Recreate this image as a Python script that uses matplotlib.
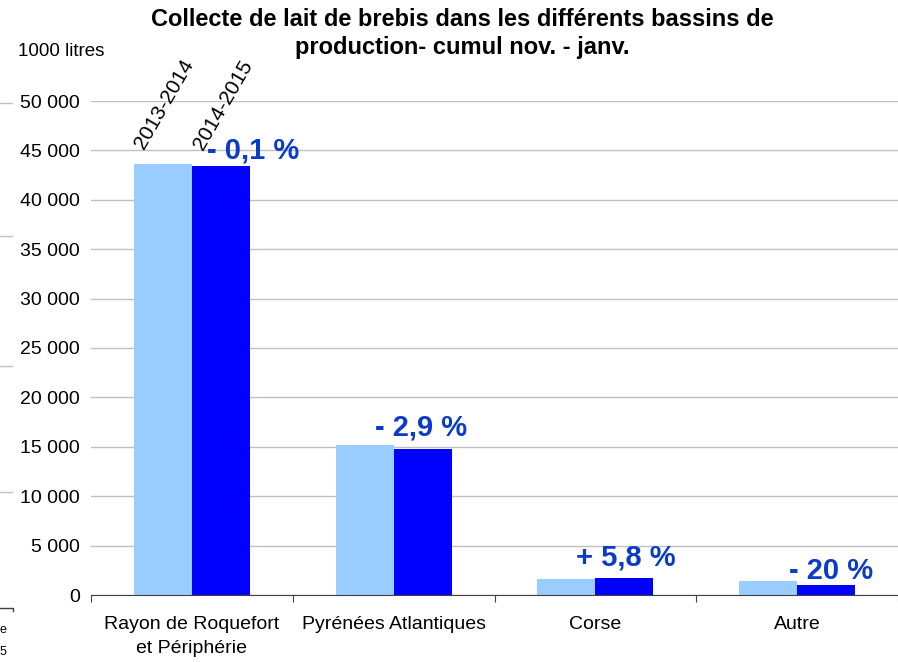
import matplotlib
matplotlib.use("Agg")
import matplotlib.pyplot as plt
import numpy as np

plt.rcParams['font.family'] = ['Liberation Sans', 'DejaVu Sans']

categories = ["Rayon de Roquefort\net Périphérie", "Pyrénées Atlantiques", "Corse", "Autre"]
series_names = ["2013-2014", "2014-2015"]
vals_2013 = [43650, 15150, 1620, 1410]
vals_2014 = [43450, 14750, 1720, 1010]
pct_labels = ["- 0,1 %", "- 2,9 %", "+ 5,8 %", "- 20 %"]
yticks = np.arange(0, 50001, 5000)

fig = plt.figure(figsize=(8.98, 6.62), dpi=100)
ax = fig.add_axes([91/898, 1-595/662, 1-91/898, (595-101)/662])

x = np.arange(len(categories))
w = 0.287
ax.bar(x - w/2, vals_2013, w, color='#99CCFF', zorder=3)
ax.bar(x + w/2, vals_2014, w, color='#0000FF', zorder=3)

ax.set_xlim(-0.5, len(categories) - 0.5)
ax.set_ylim(0, 50000)
ax.set_yticks(yticks)
ax.set_yticklabels([f"{v:,}".replace(",", " ") for v in yticks], fontsize=14)
ax.yaxis.grid(True, color='#C0C0C0', linewidth=1, zorder=0)
ax.tick_params(axis='y', length=0, pad=8)

# category labels between boundary ticks
ax.set_xticks(np.arange(len(categories) + 1) - 0.5)
ax.set_xticklabels([])
ax.tick_params(axis='x', length=5, color='#404040', direction='out')
for i, c in enumerate(categories):
    ax.text(i, -2100, c, ha='center', va='top', fontsize=14, linespacing=1.55)

for s in ['top', 'right', 'left']:
    ax.spines[s].set_visible(False)
ax.spines['bottom'].set_color('#404040')
ax.spines['bottom'].set_zorder(4)

# series names above first group
ax.text(-0.22, 44800, series_names[0], rotation=60, ha='left', va='bottom',
        fontsize=15, rotation_mode='anchor')
ax.text(0.07, 44700, series_names[1], rotation=60, ha='left', va='bottom',
        fontsize=15, rotation_mode='anchor')

# percent change labels
offsets = [(0.302, 1370), (0.134, 1830), (0.153, 2110), (0.168, 1000)]
for i, (lab, (dx, dy)) in enumerate(zip(pct_labels, offsets)):
    top = max(vals_2013[i], vals_2014[i])
    ax.text(i + dx, top + dy, lab, ha='center', va='center', fontsize=21,
            fontweight='bold', color='#0A3CC8')

fig.text(0.5145, 1-33.5/662, "Collecte de lait de brebis dans les différents bassins de\nproduction- cumul nov. - janv.",
         ha='center', va='center', fontsize=17, fontweight='bold', linespacing=1.23)
fig.text(18/898, 1-51/662, "1000 litres", ha='left', va='center', fontsize=13.5)

# fragments of a neighbouring chart at the left edge
for yy in [103, 236, 366, 492]:
    fig.add_artist(plt.Line2D([0, 12/898], [1-yy/662]*2, color='#C0C0C0', lw=1))
fig.add_artist(plt.Line2D([0, 13/898, 13/898], [1-608/662, 1-608/662, 1-611/662], color='#404040', lw=1))
fig.text(0, 1-630/662, "e", fontsize=9, va='center')
fig.text(0, 1-652/662, "5", fontsize=9, va='center')

fig.savefig("out.png", dpi=100)
